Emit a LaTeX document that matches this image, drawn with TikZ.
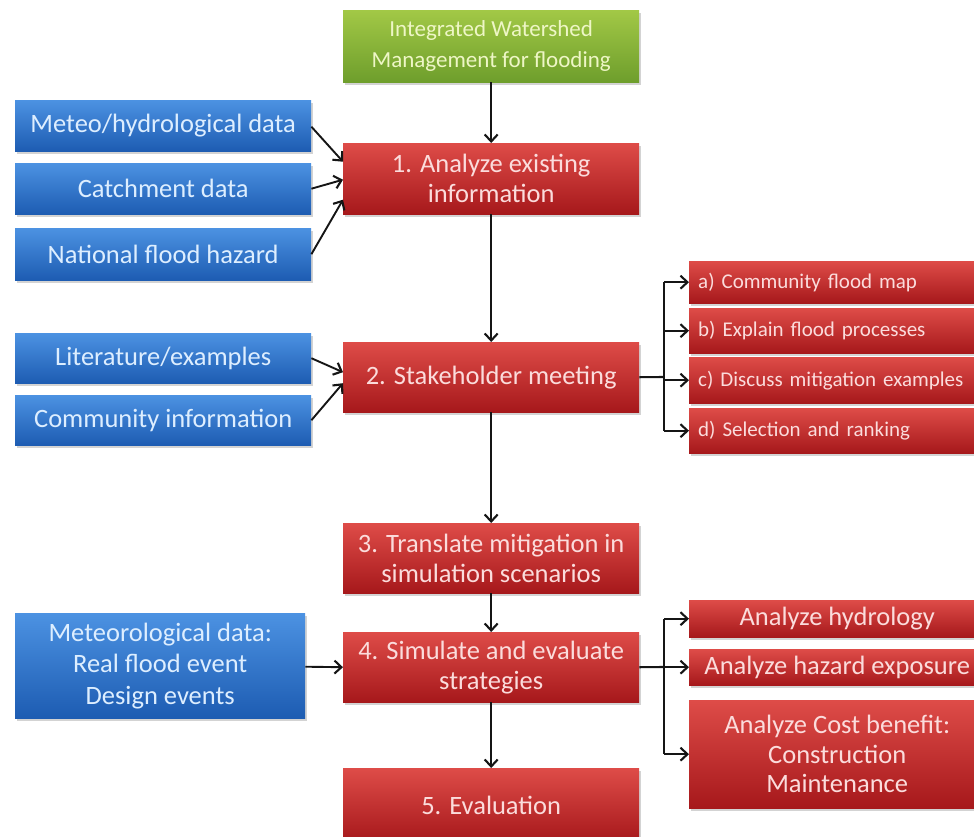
\documentclass[tikz,border=0pt]{standalone}
\usepackage{fontspec}
\setmainfont{Carlito}
\usetikzlibrary{arrows.meta,shadows}

\definecolor{redtop}{HTML}{DE4C48}
\definecolor{redbot}{HTML}{A6181B}
\definecolor{redtext}{HTML}{FBDCDC}
\definecolor{bluetop}{HTML}{4C92E2}
\definecolor{bluebot}{HTML}{1D5CB2}
\definecolor{bluetext}{HTML}{DDEEFF}
\definecolor{greentop}{HTML}{A2C846}
\definecolor{greenbot}{HTML}{6E9E2C}
\definecolor{greentext}{HTML}{EEF6C6}
\definecolor{arrowcol}{HTML}{151515}

\begin{document}
\begin{tikzpicture}[x=1pt,y=-1pt,
  box/.style={anchor=north west, inner sep=0pt, align=center,
    font=\fontsize{26.5}{30}\selectfont,
    drop shadow={opacity=0.35,shadow xshift=1.5pt,shadow yshift=-2.5pt}},
  redbox/.style={box, top color=redtop, bottom color=redbot, text=redtext},
  bluebox/.style={box, top color=bluetop, bottom color=bluebot, text=bluetext},
  greenbox/.style={box, top color=greentop, bottom color=greenbot, text=greentext,
    font=\fontsize{23}{31}\selectfont},
  subbox/.style={redbox, align=left, inner xsep=9pt, text width=277pt,
    font=\fontsize{21}{25}\selectfont},
  arr/.style={arrowcol, line width=2.3pt, -{Straight Barb[length=7pt,width=13pt,line width=2.1pt]}},
  thinarr/.style={arr, line width=1.9pt},
  link/.style={arrowcol, line width=2.1pt}
]
\path[use as bounding box] (0,0) rectangle (974,836);

% main column
\node[greenbox, minimum width=296pt, minimum height=72pt] (top) at (343,10)
  {Integrated Watershed\\Management for flooding};
\node[redbox, minimum width=296pt, minimum height=71pt] (s1) at (343,143)
  {1. Analyze existing\\information};
\node[redbox, minimum width=296pt, minimum height=70pt] (s2) at (343,342)
  {2. Stakeholder meeting};
\node[redbox, minimum width=296pt, minimum height=70pt] (s3) at (343,523)
  {3. Translate mitigation in\\simulation scenarios};
\node[redbox, minimum width=296pt, minimum height=70pt] (s4) at (343,632)
  {4. Simulate and evaluate\\strategies};
\node[redbox, minimum width=296pt, minimum height=74pt] (s5) at (343,768)
  {5. Evaluation};

% input data boxes
\node[bluebox, minimum width=296pt, minimum height=51pt] (meteo) at (15,100)
  {Meteo/hydrological data};
\node[bluebox, minimum width=296pt, minimum height=51pt] (catch) at (15,163)
  {Catchment data};
\node[bluebox, minimum width=296pt, minimum height=52pt] (nat) at (15,228)
  {National flood hazard};
\node[bluebox, minimum width=296pt, minimum height=50pt] (lit) at (15,333)
  {Literature/examples};
\node[bluebox, minimum width=296pt, minimum height=50pt] (comm) at (15,395)
  {Community information};
\node[bluebox, minimum width=290pt, minimum height=105pt, font=\fontsize{26.5}{31.5}\selectfont] (met) at (15,613)
  {Meteorological data:\\Real flood event\\Design events};

% stakeholder meeting steps
\node[subbox, minimum height=42pt] (sa) at (689,261) {a) Community flood map};
\node[subbox, minimum height=45pt] (sb) at (689,308) {b) Explain flood processes};
\node[subbox, minimum height=46pt] (sc) at (689,357) {c) Discuss mitigation examples};
\node[subbox, minimum height=45pt] (sd) at (689,408) {d) Selection and ranking};

% analysis steps
\node[redbox, minimum width=296pt, minimum height=37pt] (hy) at (689,600) {Analyze hydrology};
\node[redbox, minimum width=296pt, minimum height=36pt] (hz) at (689,649) {Analyze hazard exposure};
\node[redbox, minimum width=296pt, minimum height=108pt, font=\fontsize{26.5}{29.5}\selectfont] (cb) at (689,700)
  {Analyze Cost benefit:\\Construction\\Maintenance};

% main flow
\draw[arr] (top) -- (s1);
\draw[arr] (s1) -- (s2);
\draw[arr] (s2) -- (s3);
\draw[arr] (s3) -- (s4);
\draw[arr] (s4) -- (s5);

% inputs
\draw[thinarr] ([yshift=-1pt]meteo.east) -- ([yshift=17pt]s1.west);
\draw[thinarr] (catch.east) -- ([yshift=-1pt]s1.west);
\draw[thinarr] (nat.east) -- ([yshift=-21pt]s1.west);
\draw[thinarr] (lit.east) -- ([yshift=5pt]s2.west);
\draw[thinarr] (comm.east) -- ([yshift=-6pt]s2.west);
\draw[thinarr] ([yshift=-1pt]met.east) -- (s4.west);

% branch to stakeholder steps
\coordinate (j2) at (664,377);
\draw[link] (s2.east) -- (j2);
\draw[link] (j2 |- sa.west) -- (j2 |- sd.west);
\foreach \n in {sa,sb,sc,sd}
  \draw[thinarr] (j2 |- \n.west) -- (\n.west);

% branch to analysis steps
\coordinate (j4) at (664,667);
\draw[link] (s4.east) -- (j4);
\draw[link] (j4 |- hy.west) -- (j4 |- cb.west);
\foreach \n in {hy,hz,cb}
  \draw[thinarr] (j4 |- \n.west) -- (\n.west);
\end{tikzpicture}
\end{document}
